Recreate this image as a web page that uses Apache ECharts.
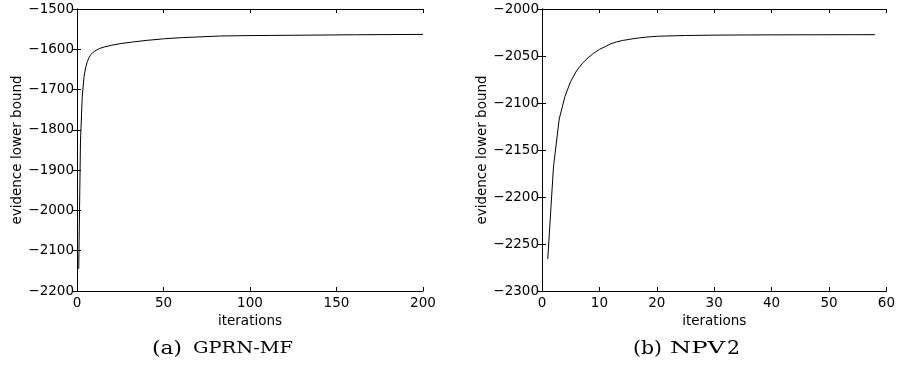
<!DOCTYPE html>
<html>
<head>
<meta charset="utf-8">
<script src="https://cdn.jsdelivr.net/npm/echarts@6/dist/echarts.min.js"></script>
<style>
  html, body { margin: 0; padding: 0; background: #fff; }
  #chart { width: 898px; height: 368px; }
</style>
</head>
<body>
<div id="chart"></div>
<script>
// (a) GPRN-MF
const gprnIters = [1, 2, 3, 4, 5, 6, 7, 8, 10, 13, 16, 20, 25, 32, 40, 50, 61, 83, 100, 130, 160, 200];
const gprnBound = [-2145, -1830, -1720, -1670, -1645, -1630, -1620, -1613, -1605, -1598, -1594, -1590, -1586, -1582, -1578, -1574, -1571, -1567, -1566, -1565, -1564, -1563];

// (b) NPV2
const npvIters = [1, 2, 3, 4, 5, 6, 7, 8, 9, 10, 11, 12, 13, 14, 15, 16, 17, 18, 19, 20, 25, 30, 40, 50, 58];
const npvBound = [-2266, -2168, -2117, -2093, -2077, -2066, -2058, -2052, -2047, -2043, -2040, -2037, -2035, -2033.5, -2032.5, -2031.5, -2030.7, -2030, -2029.5, -2029, -2028.2, -2027.8, -2027.5, -2027.4, -2027.3];

const xName = "iterations";
const yName = "evidence lower bound";

const chart = echarts.init(document.getElementById("chart"));

const minus = (v) => String(v).replace("-", "\u2212");
const axisFont = { color: "#000", fontFamily: "DejaVu Sans", fontSize: 13.5 };

// the captions are drawn a bit wider than the font, so stretch them to fit
const ctx = document.createElement("canvas").getContext("2d");
function capText(str, x, w, size) {
  ctx.font = size + "px 'DejaVu Serif'";
  const sx = w / ctx.measureText(str).width;
  return {
    type: "text", x, y: 349, scaleX: sx,
    style: { text: str, fontFamily: "DejaVu Serif", fontSize: size, fill: "#000", verticalAlign: "middle" },
  };
}

function mainX(grid, min, max, interval) {
  return {
    type: "value", gridIndex: grid, min, max, interval,
    name: xName, nameLocation: "middle", nameGap: 21,
    nameTextStyle: axisFont,
    axisLine: { lineStyle: { color: "#000", width: 1 } },
    axisTick: { inside: true, length: 4, lineStyle: { color: "#000" } },
    axisLabel: { ...axisFont, margin: 5, showMinLabel: true, showMaxLabel: true },
    splitLine: { show: false },
  };
}
function mirrorX(grid, min, max, interval) {
  return {
    type: "value", gridIndex: grid, min, max, interval, position: "top",
    axisLine: { lineStyle: { color: "#000", width: 1 } },
    axisTick: { inside: true, length: 4, lineStyle: { color: "#000" } },
    axisLabel: { show: false }, splitLine: { show: false },
  };
}
function mainY(grid, min, max, interval, gap) {
  return {
    type: "value", gridIndex: grid, min, max, interval,
    name: yName, nameLocation: "middle", nameGap: gap, nameRotate: 90,
    nameTextStyle: axisFont,
    axisLine: { show: true, lineStyle: { color: "#000", width: 1 } },
    axisTick: { show: true, inside: true, length: 4, lineStyle: { color: "#000" } },
    axisLabel: { ...axisFont, margin: 3, formatter: minus, showMinLabel: true, showMaxLabel: true },
    splitLine: { show: false },
  };
}
function mirrorY(grid, min, max, interval) {
  return {
    type: "value", gridIndex: grid, min, max, interval, position: "right",
    axisLine: { show: true, lineStyle: { color: "#000", width: 1 } },
    axisTick: { show: true, inside: true, length: 4, lineStyle: { color: "#000" } },
    axisLabel: { show: false }, splitLine: { show: false },
  };
}

const option = {
  backgroundColor: "#fff",
  animation: false,
  grid: [
    { left: 77, top: 9, width: 346, height: 282 },
    { left: 542, top: 9, width: 347, height: 282 },
  ],
  xAxis: [
    mainX(0, 0, 200, 50),
    mirrorX(0, 0, 200, 50),
    mainX(1, 0, 60, 10),
    mirrorX(1, 0, 60, 10),
  ],
  yAxis: [
    mainY(0, -2200, -1500, 100, 52),
    mirrorY(0, -2200, -1500, 100),
    mainY(1, -2300, -2000, 50, 52),
    mirrorY(1, -2300, -2000, 50),
  ],
  series: [
    {
      type: "line", xAxisIndex: 0, yAxisIndex: 0,
      data: gprnIters.map((it, i) => [it, gprnBound[i]]),
      showSymbol: false, lineStyle: { color: "#000", width: 1 },
    },
    {
      type: "line", xAxisIndex: 2, yAxisIndex: 2,
      data: npvIters.map((it, i) => [it, npvBound[i]]),
      showSymbol: false, lineStyle: { color: "#000", width: 1 },
    },
  ],
  graphic: [
    capText("(a)", 152, 30, 19),
    capText("GPRN-MF", 193, 100, 16),
    capText("(b)", 633, 29, 19),
    capText("NPV", 670, 55, 16),
    capText("2", 727, 13, 19),
  ],
};

chart.setOption(option);
window.addEventListener("resize", () => chart.resize());
</script>
</body>
</html>
